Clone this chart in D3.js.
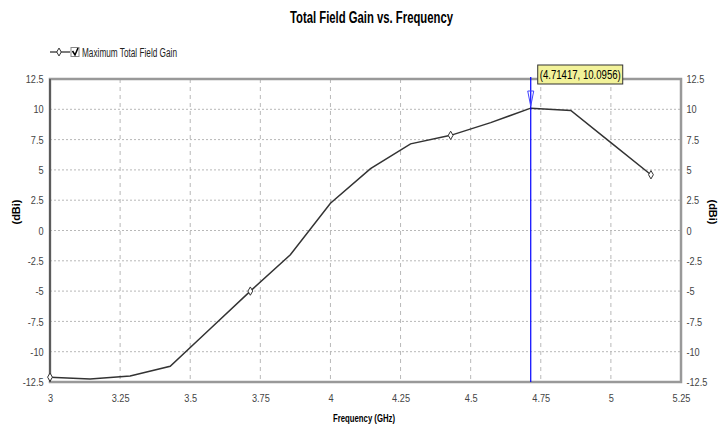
<!DOCTYPE html>
<html>
<head>
<meta charset="utf-8">
<script src="https://cdn.jsdelivr.net/npm/d3@7"></script>
<style>
  body { margin: 0; background: #fff; }
  text { font-family: "Liberation Sans", Arial, sans-serif; }
</style>
</head>
<body>
<div id="chart"></div>
<script>
// Data: 16 samples, 1/7 GHz apart
const frequencies = [3.0, 3.1429, 3.2857, 3.4286, 3.5714, 3.7143, 3.8571, 4.0,
  4.1429, 4.2857, 4.4286, 4.5714, 4.71417, 4.8571, 5.0, 5.1429];
const gain = [-12.1, -12.25, -12.0, -11.2, -8.1, -5.0, -2.0, 2.25,
  5.1, 7.15, 7.85, 8.9, 10.0956, 9.9, 7.25, 4.6];
const xTicks = [3, 3.25, 3.5, 3.75, 4, 4.25, 4.5, 4.75, 5, 5.25];
const yTicks = [-12.5, -10, -7.5, -5, -2.5, 0, 2.5, 5, 7.5, 10, 12.5];
const markerFreq = 4.71417;
const markerGain = 10.0956;

const width = 718;
const height = 430;
const margin = { top: 79, right: 37, bottom: 48, left: 50 };

const svg = d3
  .select("#chart")
  .append("svg")
  .attr("width", width)
  .attr("height", height);

const x = d3.scaleLinear().domain([3, 5.25]).range([margin.left, width - margin.right]);
const y = d3.scaleLinear().domain([-12.5, 12.5]).range([height - margin.bottom, margin.top]);

// Grid
svg
  .append("g")
  .selectAll("line")
  .data(xTicks.slice(1, -1))
  .enter()
  .append("line")
  .attr("x1", (d) => x(d))
  .attr("x2", (d) => x(d))
  .attr("y1", y(12.5))
  .attr("y2", y(-12.5))
  .attr("stroke", "#b8b8b8")
  .attr("stroke-dasharray", "4,4");
svg
  .append("g")
  .selectAll("line")
  .data(yTicks.slice(1, -1))
  .enter()
  .append("line")
  .attr("x1", x(3))
  .attr("x2", x(5.25))
  .attr("y1", (d) => y(d))
  .attr("y2", (d) => y(d))
  .attr("stroke", "#b8b8b8")
  .attr("stroke-dasharray", "2,2");

// Frame
svg
  .append("rect")
  .attr("x", x(3))
  .attr("y", y(12.5))
  .attr("width", x(5.25) - x(3))
  .attr("height", y(-12.5) - y(12.5))
  .attr("fill", "none")
  .attr("stroke", "#999")
  .attr("stroke-width", 2.5);
svg
  .append("line")
  .attr("x1", x(3))
  .attr("x2", x(3))
  .attr("y1", y(12.5))
  .attr("y2", y(-12.5))
  .attr("stroke", "#333")
  .attr("stroke-width", 1.2);

// Axes (narrow look: squeeze the labels horizontally)
const tickFont = (g) => {
  g.select(".domain").remove();
  g.selectAll("line").remove();
  g.selectAll("text")
    .attr("fill", "#444")
    .attr("font-size", 11.5)
    .attr("transform", "scale(0.8,1)");
};
const fmt = (d) => String(d);
svg
  .append("g")
  .attr("transform", `translate(0,${y(-12.5) + 9})`)
  .call(d3.axisBottom(x).tickValues(xTicks).tickFormat(fmt).tickSize(0))
  .call(tickFont);
svg
  .append("g")
  .attr("transform", `translate(${x(3) - 4},0)`)
  .call(d3.axisLeft(y).tickValues(yTicks).tickFormat(fmt).tickSize(0))
  .call(tickFont);
svg
  .append("g")
  .attr("transform", `translate(${x(5.25) + 3},0)`)
  .call(d3.axisRight(y).tickValues(yTicks).tickFormat(fmt).tickSize(0))
  .call(tickFont);

// Axis titles
svg
  .append("text")
  .attr("x", 333)
  .attr("y", 422)
  .attr("font-size", 11)
  .attr("font-weight", "bold")
  .attr("textLength", 62)
  .attr("lengthAdjust", "spacingAndGlyphs")
  .text("Frequency (GHz)");
svg
  .append("text")
  .attr("transform", "translate(20,212) rotate(-90)")
  .attr("text-anchor", "middle")
  .attr("font-size", 11)
  .attr("font-weight", "bold")
  .text("(dBi)");
svg
  .append("text")
  .attr("transform", "translate(709,212) rotate(90)")
  .attr("text-anchor", "middle")
  .attr("font-size", 11)
  .attr("font-weight", "bold")
  .text("(dBi)");

// Title
svg
  .append("text")
  .attr("x", 290)
  .attr("y", 23)
  .attr("font-size", 16)
  .attr("font-weight", "bold")
  .attr("textLength", 163)
  .attr("lengthAdjust", "spacingAndGlyphs")
  .text("Total Field Gain vs. Frequency");

// Curve
const line = d3
  .line()
  .x((d, i) => x(frequencies[i]))
  .y((d) => y(d));
svg
  .append("path")
  .datum(gain)
  .attr("d", line)
  .attr("fill", "none")
  .attr("stroke", "#333")
  .attr("stroke-width", 1.5);

const diamond = d3.symbol().type(d3.symbolDiamond).size(20);
svg
  .append("g")
  .selectAll("path")
  .data(gain.filter((d, i) => i % 5 === 0).map((d, j) => [frequencies[j * 5], d]))
  .enter()
  .append("path")
  .attr("d", diamond)
  .attr("transform", (d) => `translate(${x(d[0])},${y(d[1])})`)
  .attr("fill", "#fff")
  .attr("stroke", "#333");

// Marker
const mx = x(markerFreq);
svg
  .append("line")
  .attr("x1", mx)
  .attr("x2", mx)
  .attr("y1", y(12.5) - 2)
  .attr("y2", y(-12.5))
  .attr("stroke", "#0000ff")
  .attr("stroke-width", 1.2);
svg
  .append("path")
  .attr("d", `M${mx - 3},${y(12.5) + 12}L${mx + 3},${y(12.5) + 12}L${mx},${y(markerGain) - 2}Z`)
  .attr("fill", "none")
  .attr("stroke", "#4040ff");
const label = svg.append("g").attr("transform", `translate(${mx + 7},65)`);
label
  .append("rect")
  .attr("width", 85)
  .attr("height", 19)
  .attr("fill", "#f2f29a")
  .attr("stroke", "#333");
label
  .append("text")
  .attr("x", 2)
  .attr("y", 14)
  .attr("font-size", 12.5)
  .attr("textLength", 81)
  .attr("lengthAdjust", "spacingAndGlyphs")
  .text(`(${markerFreq}, ${markerGain})`);

// Legend
const legend = svg.append("g").attr("transform", "translate(50,52)");
legend.append("line").attr("x1", 0).attr("x2", 20).attr("stroke", "#333").attr("stroke-width", 1.3);
legend
  .append("path")
  .attr("d", d3.symbol().type(d3.symbolDiamond).size(18))
  .attr("transform", "translate(9,0)")
  .attr("fill", "#fff")
  .attr("stroke", "#333");
legend
  .append("rect")
  .attr("x", 21)
  .attr("y", -4.5)
  .attr("width", 8)
  .attr("height", 9)
  .attr("fill", "#fff")
  .attr("stroke", "#888");
legend
  .append("path")
  .attr("d", "M22.5,-1L25,3L28,-4")
  .attr("fill", "none")
  .attr("stroke", "#000")
  .attr("stroke-width", 1.5);
legend
  .append("text")
  .attr("x", 32)
  .attr("y", 4.5)
  .attr("font-size", 12.5)
  .attr("fill", "#222")
  .attr("textLength", 95)
  .attr("lengthAdjust", "spacingAndGlyphs")
  .text("Maximum Total Field Gain");
</script>
</body>
</html>
